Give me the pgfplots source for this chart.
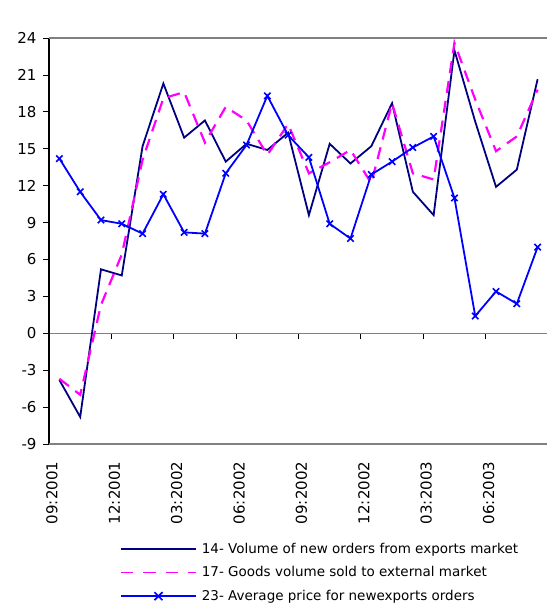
\documentclass[border=0pt]{standalone}
\usepackage{pgfplots}
\pgfplotsset{compat=1.18}
\usepackage{fontspec}
\setmainfont{DejaVu Sans}
\definecolor{navyline}{HTML}{000080}
\definecolor{magline}{HTML}{FF00FF}
\definecolor{blueline}{HTML}{0000FF}
\begin{document}
\begin{tikzpicture}
\useasboundingbox (0,0) rectangle (547bp,609bp);
\begin{axis}[
  at={(49bp,165bp)}, anchor=south west,
  scale only axis, width=499bp, height=406bp,
  xmin=0, xmax=24, ymin=-9, ymax=24,
  axis x line=middle, axis y line=left,
  hide obscured x ticks=false, hide obscured y ticks=false,
  x axis line style={-, draw=gray, line width=1.3pt},
  y axis line style={-, draw=black, line width=1.6pt},
  xtick={0,3,...,24},
  xticklabels={09:2001,12:2001,03:2002,06:2002,09:2002,12:2002,03:2003,06:2003,{}},
  ytick={-9,-6,...,24},
  xtick align=outside, ytick align=outside,
  major tick length=6bp,
  x tick style={black, line width=0.8pt},
  y tick style={black, line width=0.8pt},
  /pgf/number format/assume math mode=true,
  tick label style={font=\fontsize{15bp}{17bp}\selectfont},
  xticklabel style={xshift=3bp, yshift=-119bp, rotate=90, anchor=east},
  yticklabel style={xshift=-3bp},
  extra y ticks={-9,24},
  extra y tick labels={},
  extra y tick style={grid=major, major grid style={draw=gray, line width=1.3pt}, major tick length=0pt},
  clip=false,
  legend style={draw=none, fill=none, at={(rel axis cs:0.142,-0.238)}, anchor=north west,
    font=\fontsize{13.5bp}{16bp}\selectfont, row sep=8bp, inner sep=0pt,
    cells={anchor=west}, nodes={inner xsep=5bp}},
  legend cell align=left,
]
\addplot[navyline, line width=1.8pt, mark=none,
  legend image code/.code={\draw[navyline, line width=1.8pt] (0bp,0bp) -- (75bp,0bp);}] coordinates {
(0.5,-3.8) (1.5,-6.8) (2.5,5.2) (3.5,4.7) (4.5,15.2) (5.5,20.3) (6.5,15.9) (7.5,17.3)
(8.5,13.95) (9.5,15.4) (10.5,14.9) (11.5,16.3) (12.5,9.6) (13.5,15.4) (14.5,13.8) (15.5,15.2)
(16.5,18.7) (17.5,11.5) (18.5,9.6) (19.5,23.0) (20.5,17.2) (21.5,11.9) (22.5,13.3) (23.5,20.65)};
\addlegendentry{14- Volume of new orders from exports market}
\addplot[magline, line width=2.2pt, dash pattern=on 12bp off 8bp, mark=none,
  legend image code/.code={\draw[magline, line width=1.8pt, dash pattern=on 12.5bp off 10bp] (0bp,0bp) -- (75bp,0bp);}] coordinates {
(0.5,-3.7) (1.5,-5.0) (2.5,2.3) (3.5,6.4) (4.5,14.1) (5.5,19.1) (6.5,19.6) (7.5,15.5)
(8.5,18.4) (9.5,17.3) (10.5,14.5) (11.5,17.0) (12.5,13.0) (13.5,13.9) (14.5,14.9) (15.5,12.2)
(16.5,18.7) (17.5,13.0) (18.5,12.5) (19.5,23.6) (20.5,19.0) (21.5,14.8) (22.5,16.0) (23.5,19.8)};
\addlegendentry{17- Goods volume sold to external market}
\addplot[blueline, line width=1.8pt, mark=x, mark size=4.5bp, mark options={line width=1.6pt},
  legend image code/.code={\draw[blueline, line width=1.8pt] (0bp,0bp) -- (75bp,0bp);
    \draw[blueline, line width=1.6pt] (33.5bp,-4bp) -- (41.5bp,4bp) (33.5bp,4bp) -- (41.5bp,-4bp);}] coordinates {
(0.5,14.2) (1.5,11.5) (2.5,9.2) (3.5,8.9) (4.5,8.1) (5.5,11.3) (6.5,8.2) (7.5,8.1)
(8.5,13.0) (9.5,15.3) (10.5,19.3) (11.5,16.1) (12.5,14.3) (13.5,8.9) (14.5,7.7) (15.5,12.9)
(16.5,13.95) (17.5,15.1) (18.5,16.0) (19.5,11.0) (20.5,1.4) (21.5,3.4) (22.5,2.4) (23.5,7.0)};
\addlegendentry{23- Average price for newexports orders}
\end{axis}
\end{tikzpicture}
\end{document}
